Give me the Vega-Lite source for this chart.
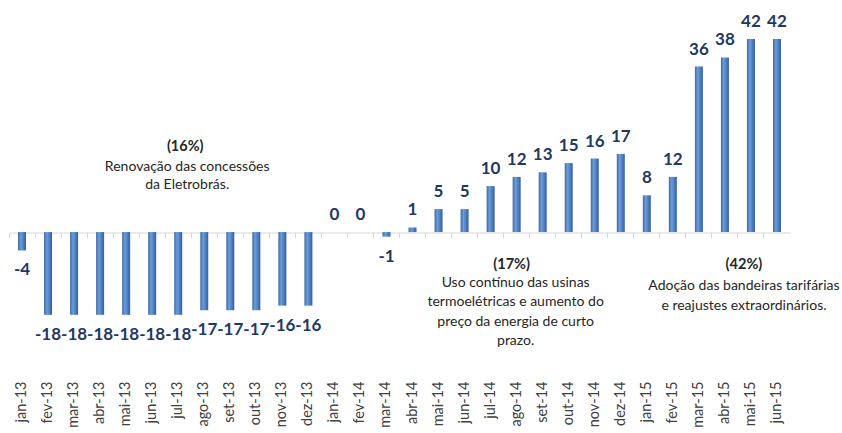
{
  "$schema": "https://vega.github.io/schema/vega-lite/v6.json",
  "autosize": {"type": "none"},
  "width": 781,
  "height": 354,
  "padding": {"left": 9, "top": 16, "right": 52, "bottom": 63},
  "background": "white",
  "config": {"view": {"stroke": null}, "font": "Lato"},
  "datasets": {
    "series": [
      {"month": "jan-13", "value": -4},
      {"month": "fev-13", "value": -18},
      {"month": "mar-13", "value": -18},
      {"month": "abr-13", "value": -18},
      {"month": "mai-13", "value": -18},
      {"month": "jun-13", "value": -18},
      {"month": "jul-13", "value": -18},
      {"month": "ago-13", "value": -17},
      {"month": "set-13", "value": -17},
      {"month": "out-13", "value": -17},
      {"month": "nov-13", "value": -16},
      {"month": "dez-13", "value": -16},
      {"month": "jan-14", "value": 0},
      {"month": "fev-14", "value": 0},
      {"month": "mar-14", "value": -1},
      {"month": "abr-14", "value": 1},
      {"month": "mai-14", "value": 5},
      {"month": "jun-14", "value": 5},
      {"month": "jul-14", "value": 10},
      {"month": "ago-14", "value": 12},
      {"month": "set-14", "value": 13},
      {"month": "out-14", "value": 15},
      {"month": "nov-14", "value": 16},
      {"month": "dez-14", "value": 17},
      {"month": "jan-15", "value": 8},
      {"month": "fev-15", "value": 12},
      {"month": "mar-15", "value": 36},
      {"month": "abr-15", "value": 38},
      {"month": "mai-15", "value": 42},
      {"month": "jun-15", "value": 42}
    ],
    "notes": [
      {"id": "a", "month": "jul-13", "y": 18.4, "header": "(16%)", "body": "Renovação das concessões\nda Eletrobrás."},
      {"id": "b", "month": "ago-14", "y": -7.07, "header": "(17%)", "body": "Uso contínuo das usinas\ntermoelétricas e aumento do\npreço da energia de curto\nprazo."},
      {"id": "c", "month": "mai-15", "y": -7.07, "header": "(42%)", "body": "Adoção das  bandeiras tarifárias\ne reajustes extraordinários."}
    ]
  },
  "resolve": {"axis": {"x": "independent"}},
  "layer": [
    {
      "data": {"name": "series"},
      "mark": {
        "type": "bar",
        "size": 8,
        "color": {
          "gradient": "linear", "x1": 0, "y1": 0, "x2": 1, "y2": 0,
          "stops": [
            {"offset": 0, "color": "#3a69a8"},
            {"offset": 0.35, "color": "#6d9cd9"},
            {"offset": 0.6, "color": "#5586c6"},
            {"offset": 1, "color": "#345f9b"}
          ]
        }
      },
      "encoding": {
        "x": {
          "field": "month", "type": "nominal",
          "scale": {"domain": ["jan-13","fev-13","mar-13","abr-13","mai-13","jun-13","jul-13","ago-13","set-13","out-13","nov-13","dez-13","jan-14","fev-14","mar-14","abr-14","mai-14","jun-14","jul-14","ago-14","set-14","out-14","nov-14","dez-14","jan-15","fev-15","mar-15","abr-15","mai-15","jun-15"], "paddingInner": 0, "paddingOuter": 0},
          "axis": {"orient": "bottom", "title": null, "labelAngle": -90, "ticks": false, "domain": false, "labelPadding": 11, "labelFontSize": 14.5, "labelColor": "#404040", "labelFont": "Lato"}
        },
        "y": {"field": "value", "type": "quantitative", "scale": {"domain": [-30, 47], "nice": false, "zero": true}, "axis": null}
      }
    },
    {
      "data": {"name": "series"},
      "transform": [{"filter": "datum.value >= 0"}],
      "mark": {"type": "text", "baseline": "alphabetic", "dy": -12, "fontSize": 17, "fontWeight": "bold", "color": "#1f3864", "font": "Lato"},
      "encoding": {
        "x": {"field": "month", "type": "nominal", "axis": {"orient": "bottom", "title": null, "labels": false, "ticks": true, "domain": true, "offset": -137.5, "tickSize": 5, "bandPosition": 0, "domainColor": "#d6d6d6", "tickColor": "#d6d6d6", "grid": false}},
        "y": {"field": "value", "type": "quantitative", "axis": null},
        "text": {"field": "value", "type": "nominal"}
      }
    },
    {
      "data": {"name": "series"},
      "transform": [{"filter": "datum.value < 0"}],
      "mark": {"type": "text", "baseline": "top", "dy": 12, "fontSize": 17, "fontWeight": "bold", "color": "#1f3864", "font": "Lato"},
      "encoding": {
        "x": {"field": "month", "type": "nominal", "axis": null},
        "y": {"field": "value", "type": "quantitative", "axis": null},
        "text": {"field": "value", "type": "nominal"}
      }
    },
    {
      "data": {"name": "notes"},
      "transform": [{"filter": "datum.id == 'a'"}],
      "mark": {"type": "text", "baseline": "middle", "dx": 7, "fontSize": 14.5, "fontWeight": "bold", "color": "#262626", "font": "Lato"},
      "encoding": {
        "x": {"field": "month", "type": "nominal", "axis": null},
        "y": {"field": "y", "type": "quantitative", "axis": null},
        "text": {"field": "header", "type": "nominal"}
      }
    },
    {
      "data": {"name": "notes"},
      "transform": [{"filter": "datum.id == 'a'"}],
      "mark": {"type": "text", "baseline": "top", "dx": 9, "dy": 13, "lineBreak": "\n", "lineHeight": 18, "fontSize": 14, "color": "#262626", "font": "Lato"},
      "encoding": {
        "x": {"field": "month", "type": "nominal", "axis": null},
        "y": {"field": "y", "type": "quantitative", "axis": null},
        "text": {"field": "body", "type": "nominal"}
      }
    },
    {
      "data": {"name": "notes"},
      "transform": [{"filter": "datum.id == 'b'"}],
      "mark": {"type": "text", "baseline": "middle", "dx": -5, "fontSize": 14.5, "fontWeight": "bold", "color": "#262626", "font": "Lato"},
      "encoding": {
        "x": {"field": "month", "type": "nominal", "axis": null},
        "y": {"field": "y", "type": "quantitative", "axis": null},
        "text": {"field": "header", "type": "nominal"}
      }
    },
    {
      "data": {"name": "notes"},
      "transform": [{"filter": "datum.id == 'b'"}],
      "mark": {"type": "text", "baseline": "top", "dx": -1, "dy": 11, "lineBreak": "\n", "lineHeight": 19.5, "fontSize": 14, "color": "#262626", "font": "Lato"},
      "encoding": {
        "x": {"field": "month", "type": "nominal", "axis": null},
        "y": {"field": "y", "type": "quantitative", "axis": null},
        "text": {"field": "body", "type": "nominal"}
      }
    },
    {
      "data": {"name": "notes"},
      "transform": [{"filter": "datum.id == 'c'"}],
      "mark": {"type": "text", "baseline": "middle", "dx": -7, "fontSize": 14.5, "fontWeight": "bold", "color": "#262626", "font": "Lato"},
      "encoding": {
        "x": {"field": "month", "type": "nominal", "axis": null},
        "y": {"field": "y", "type": "quantitative", "axis": null},
        "text": {"field": "header", "type": "nominal"}
      }
    },
    {
      "data": {"name": "notes"},
      "transform": [{"filter": "datum.id == 'c'"}],
      "mark": {"type": "text", "baseline": "top", "dx": -7, "dy": 14, "lineBreak": "\n", "lineHeight": 20, "fontSize": 14, "color": "#262626", "font": "Lato"},
      "encoding": {
        "x": {"field": "month", "type": "nominal", "axis": null},
        "y": {"field": "y", "type": "quantitative", "axis": null},
        "text": {"field": "body", "type": "nominal"}
      }
    }
  ]
}
